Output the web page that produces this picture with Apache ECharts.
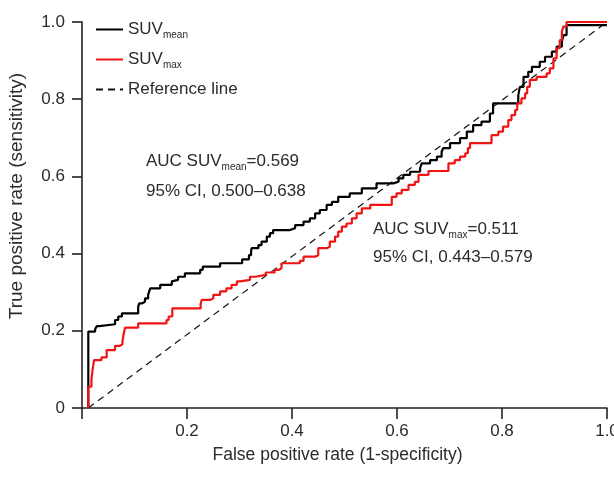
<!DOCTYPE html>
<html>
<head>
<meta charset="utf-8">
<script src="https://cdn.jsdelivr.net/npm/echarts@6/dist/echarts.min.js"></script>
<style>
  html, body { margin: 0; padding: 0; background: #fff; }
  #chart { width: 614px; height: 479px; }
</style>
</head>
<body>
<div id="chart"></div>
<script>
// ROC curves, points are (false positive rate at the rise, new sensitivity level)
var meanFpr = [0.012, 0.012, 0.025, 0.028, 0.033, 0.063, 0.069, 0.076, 0.107, 0.109,
  0.114, 0.12, 0.126, 0.128, 0.13, 0.149, 0.171, 0.174, 0.183, 0.196,
  0.225, 0.23, 0.263, 0.305, 0.318, 0.322, 0.323, 0.336, 0.342, 0.352,
  0.358, 0.364, 0.396, 0.406, 0.422, 0.434, 0.444, 0.453, 0.466, 0.476,
  0.488, 0.51, 0.533, 0.561, 0.593, 0.603, 0.612, 0.625, 0.644, 0.647,
  0.663, 0.676, 0.685, 0.688, 0.701, 0.72, 0.733, 0.745, 0.761, 0.777,
  0.783, 0.831, 0.834, 0.841, 0.85, 0.857, 0.872, 0.882, 0.895, 0.904,
  0.914, 0.917, 0.923, 1.0];
var meanTpr = [0, 0.198, 0.204, 0.212, 0.217, 0.228, 0.237, 0.245, 0.262, 0.271,
  0.275, 0.284, 0.293, 0.302, 0.31, 0.319, 0.328, 0.332, 0.34, 0.349,
  0.358, 0.366, 0.375, 0.385, 0.396, 0.405, 0.414, 0.422, 0.431, 0.444,
  0.453, 0.461, 0.466, 0.474, 0.483, 0.491, 0.504, 0.513, 0.526, 0.534,
  0.547, 0.556, 0.569, 0.582, 0.586, 0.595, 0.604, 0.612, 0.621, 0.634,
  0.642, 0.651, 0.664, 0.673, 0.686, 0.699, 0.716, 0.733, 0.742, 0.763,
  0.789, 0.81, 0.832, 0.858, 0.871, 0.884, 0.897, 0.91, 0.923, 0.936,
  0.949, 0.966, 0.992, 0.992];

var maxFpr = [0.012, 0.012, 0.018, 0.02, 0.023, 0.037, 0.047, 0.063, 0.072, 0.077,
  0.079, 0.082, 0.107, 0.161, 0.165, 0.172, 0.226, 0.228, 0.244, 0.25,
  0.263, 0.275, 0.285, 0.295, 0.301, 0.32, 0.33, 0.35, 0.367, 0.375,
  0.38, 0.415, 0.422, 0.444, 0.45, 0.466, 0.472, 0.482, 0.488, 0.495,
  0.504, 0.514, 0.523, 0.533, 0.549, 0.59, 0.599, 0.609, 0.622, 0.634,
  0.641, 0.66, 0.698, 0.71, 0.72, 0.73, 0.735, 0.739, 0.78, 0.793,
  0.802, 0.812, 0.818, 0.825, 0.829, 0.837, 0.844, 0.848, 0.853, 0.866,
  0.885, 0.891, 0.898, 0.904, 0.91, 0.914, 0.917, 0.923, 1.0];
var maxTpr = [0, 0.055, 0.073, 0.098, 0.124, 0.131, 0.15, 0.161, 0.165, 0.172,
  0.189, 0.208, 0.219, 0.228, 0.237, 0.258, 0.27, 0.28, 0.284, 0.293,
  0.302, 0.31, 0.319, 0.328, 0.332, 0.34, 0.345, 0.351, 0.358, 0.362,
  0.375, 0.381, 0.392, 0.396, 0.414, 0.418, 0.431, 0.444, 0.457, 0.47,
  0.478, 0.491, 0.504, 0.517, 0.526, 0.547, 0.556, 0.565, 0.578, 0.586,
  0.604, 0.614, 0.634, 0.642, 0.651, 0.66, 0.673, 0.686, 0.707, 0.716,
  0.729, 0.746, 0.759, 0.772, 0.789, 0.802, 0.815, 0.832, 0.85, 0.858,
  0.867, 0.88, 0.906, 0.932, 0.953, 0.975, 0.988, 1.0, 1.0];

var refFpr = [0.012, 1.0];
var refTpr = [0, 1.0];

var seriesNames = ['SUVmean', 'SUVmax', 'Reference line'];
var tickLabels = ['0', '0.2', '0.4', '0.6', '0.8', '1.0'];

var FONT = '"Liberation Sans", Arial, sans-serif';
var TXT = '#2b2b2b';

function zip(xs, ys) {
  var out = [];
  for (var i = 0; i < xs.length; i++) out.push([xs[i], ys[i]]);
  return out;
}

var subRich = {
  b: { fontFamily: FONT, fontSize: 17, lineHeight: 22, color: TXT },
  s: { fontFamily: FONT, fontSize: 10, lineHeight: 10, color: TXT, verticalAlign: 'bottom' }
};

var chart = echarts.init(document.getElementById('chart'));

var option = {
  animation: false,
  grid: { left: 82, right: 7, top: 22, bottom: 71, outerBoundsMode: 'none' },
  legend: {
    orient: 'vertical',
    left: 95,
    top: 21,
    padding: 0,
    itemWidth: 27,
    itemHeight: 14,
    itemGap: 10.5,
    data: seriesNames,
    itemStyle: { opacity: 0 },
    formatter: function (name) {
      if (name === 'SUVmean') return '{b|SUV}{s|mean}';
      if (name === 'SUVmax') return '{b|SUV}{s|max}';
      return '{b|' + name + '}';
    },
    textStyle: { fontFamily: FONT, fontSize: 17, color: TXT, rich: subRich }
  },
  xAxis: {
    type: 'value',
    min: 0, max: 1, interval: 0.2,
    name: 'False positive rate (1-specificity)',
    nameLocation: 'middle',
    nameGap: 38,
    nameTextStyle: { fontFamily: FONT, fontSize: 17.5, color: TXT, padding: [0, 14, 0, 0] },
    axisLine: { lineStyle: { color: '#222', width: 1.6 } },
    axisTick: { length: 11, lineStyle: { color: '#222', width: 1.6 } },
    axisLabel: {
      margin: 15, fontFamily: FONT, fontSize: 17, color: TXT,
      formatter: function (v) { var i = Math.round(v * 5); return i === 0 ? '' : tickLabels[i]; }
    },
    splitLine: { show: false }
  },
  yAxis: {
    type: 'value',
    min: 0, max: 1, interval: 0.2,
    name: 'True positive rate (sensitivity)',
    nameLocation: 'middle',
    nameGap: 56,
    nameTextStyle: { fontFamily: FONT, fontSize: 19, color: TXT, padding: [0, 0, 0, 38] },
    axisLine: { lineStyle: { color: '#222', width: 1.6 } },
    axisTick: { length: 10, lineStyle: { color: '#222', width: 1.6 } },
    axisLabel: {
      margin: 17, fontFamily: FONT, fontSize: 17, color: TXT,
      formatter: function (v) { return tickLabels[Math.round(v * 5)]; }
    },
    splitLine: { show: false }
  },
  graphic: [
    {
      type: 'text', x: 146, y: 161,
      style: { text: '{b|AUC SUV}{s|mean}{b|=0.569}', rich: subRich, verticalAlign: 'middle', fill: TXT, font: '17px ' + FONT }
    },
    {
      type: 'text', x: 146, y: 191,
      style: { text: '95% CI, 0.500\u20130.638', verticalAlign: 'middle', fill: TXT, font: '17px ' + FONT }
    },
    {
      type: 'text', x: 373, y: 229,
      style: { text: '{b|AUC SUV}{s|max}{b|=0.511}', rich: subRich, verticalAlign: 'middle', fill: TXT, font: '17px ' + FONT }
    },
    {
      type: 'text', x: 373, y: 257,
      style: { text: '95% CI, 0.443\u20130.579', verticalAlign: 'middle', fill: TXT, font: '17px ' + FONT }
    }
  ],
  series: [
    {
      name: 'Reference line',
      type: 'line',
      data: zip(refFpr, refTpr),
      symbol: 'none',
      lineStyle: { color: '#111', width: 1.2, type: [7, 5] },
      itemStyle: { color: '#111' },
      z: 1
    },
    {
      name: 'SUVmean',
      type: 'line',
      step: 'end',
      data: zip(meanFpr, meanTpr),
      symbol: 'none',
      lineStyle: { color: '#000', width: 2.2 },
      itemStyle: { color: '#000' },
      z: 2
    },
    {
      name: 'SUVmax',
      type: 'line',
      step: 'end',
      data: zip(maxFpr, maxTpr),
      symbol: 'none',
      lineStyle: { color: '#f01414', width: 2.2 },
      itemStyle: { color: '#f01414' },
      z: 3
    }
  ]
};

chart.setOption(option);
</script>
</body>
</html>
